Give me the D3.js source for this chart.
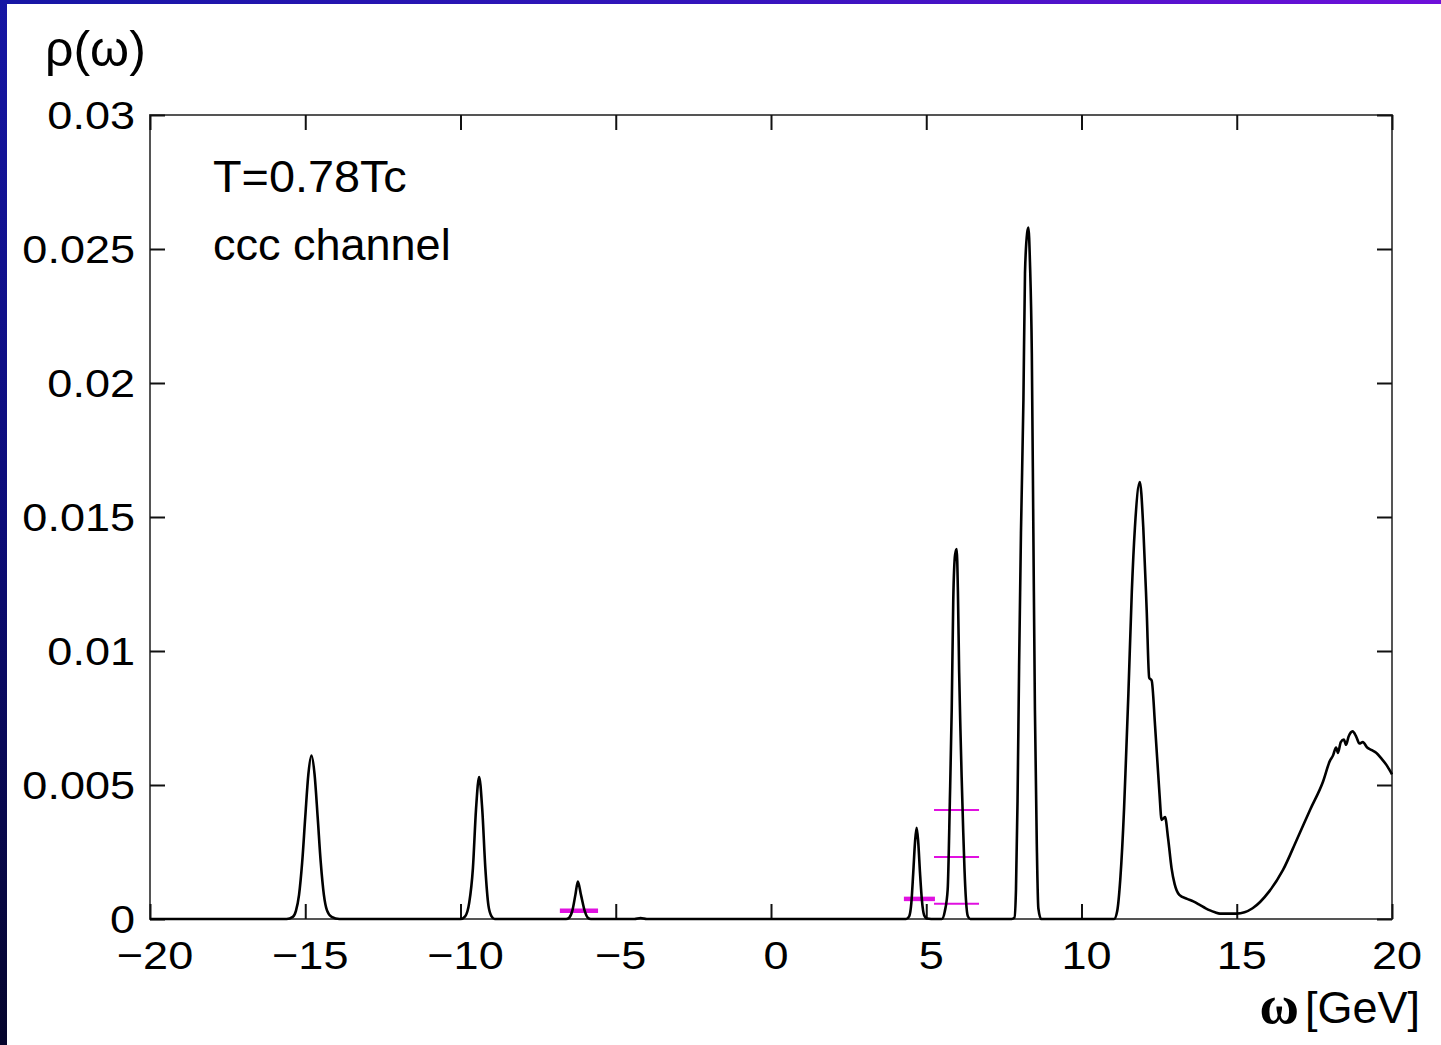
<!DOCTYPE html>
<html>
<head>
<meta charset="utf-8">
<script src="https://cdn.jsdelivr.net/npm/d3@7"></script>
<style>
  html, body { margin: 0; padding: 0; background: #fff; }
  svg { display: block; }
  text { font-family: "Liberation Sans", Arial, Helvetica, sans-serif; fill: #000; }
</style>
</head>
<body>
<svg id="chart" width="1441" height="1045"></svg>
<script>
// Spectral function rho(omega), ccc channel at T = 0.78 Tc
const omega = [
  -20, -16.0,
  -15.6, -15.4, -15.3, -15.2, -15.1, -15.0, -14.9, -14.8, -14.7, -14.6, -14.5, -14.4, -14.3, -14.15, -13.9,
  -10.0, -9.85, -9.72, -9.6, -9.5, -9.4, -9.3, -9.2, -9.1, -9.0, -8.9,
  -6.6, -6.5, -6.4, -6.3, -6.22, -6.12, -6.0, -5.9, -5.8,
  -4.4, -4.2, -4.0,
  4.35, 4.45, 4.52, 4.58, 4.64, 4.69, 4.74, 4.8, 4.86, 4.93, 5.02,
  5.3, 5.5, 5.6, 5.69, 5.76, 5.82, 5.87, 5.93, 5.98, 6.02, 6.06, 6.10, 6.14, 6.19, 6.23, 6.28, 6.34, 6.42,
  7.75, 7.84, 7.89, 7.94, 7.99, 8.05, 8.13, 8.18, 8.25, 8.29, 8.34, 8.40, 8.45, 8.50, 8.56, 8.61, 8.7,
  10.9, 11.05, 11.15, 11.25, 11.37, 11.43, 11.51, 11.62, 11.72, 11.88, 11.99, 12.10, 12.18, 12.26, 12.37,
  12.51, 12.58, 12.69, 12.79, 12.9, 13.0, 13.15, 13.4, 13.6, 13.82, 14.0, 14.14, 14.3, 14.46, 14.99, 15.51,
  16.04, 16.49, 16.93, 17.36, 17.78, 18.0, 18.1, 18.2, 18.26, 18.35, 18.45, 18.52, 18.6, 18.73, 18.85,
  18.95, 19.06, 19.2, 19.35, 19.49, 19.65, 19.82, 19.9, 20.0
];
const rho = [
  0, 0,
  0, 0.00008, 0.0003, 0.0009, 0.0021, 0.0038, 0.0054, 0.0061, 0.0054, 0.0038, 0.0021, 0.0009, 0.00032, 0.00008, 0,
  0, 0.0001, 0.0006, 0.0019, 0.0041, 0.0053, 0.0041, 0.0019, 0.0005, 0.0001, 0,
  0, 0.00005, 0.0003, 0.0009, 0.0014, 0.0009, 0.0003, 0.00005, 0,
  0, 0.00004, 0,
  0, 0.0001, 0.0006, 0.0017, 0.0029, 0.0034, 0.0029, 0.0017, 0.0007, 0.00015, 0.00002,
  0, 0, 0.0003, 0.0011, 0.0044, 0.0078, 0.0119, 0.0136, 0.0138, 0.0122, 0.0092, 0.0071, 0.0053, 0.0033, 0.0019, 0.0007, 0.0001, 0,
  0, 0.00005, 0.0011, 0.0044, 0.0094, 0.0144, 0.0194, 0.0241, 0.0256, 0.0258, 0.0245, 0.0211, 0.0144, 0.0078, 0.0028, 0.0004, 0,
  0, 0, 0.0003, 0.0015, 0.0041, 0.0059, 0.0084, 0.0122, 0.0146, 0.0163, 0.0146, 0.0115, 0.0090, 0.0089, 0.0072,
  0.0047, 0.0037, 0.0038, 0.0030, 0.0019, 0.0013, 0.0009, 0.00075, 0.00066, 0.00052, 0.0004, 0.00032, 0.00025, 0.0002, 0.0002, 0.0004,
  0.00102, 0.00183, 0.00295, 0.00407, 0.00513, 0.0059, 0.0061, 0.0064, 0.0062, 0.0066, 0.0067, 0.0065, 0.0068, 0.0070, 0.0068,
  0.00655, 0.0066, 0.0064, 0.0063, 0.0062, 0.0060, 0.00575, 0.0056, 0.0054
];

// Reference levels drawn as horizontal bars: [omega from, omega to, rho]
const levelsBold = [
  [-6.8, -5.57, 0.00031],
  [4.28, 5.28, 0.00075]
];
const levelsThin = [
  [5.25, 6.7, 0.00407],
  [5.25, 6.7, 0.00231],
  [5.25, 6.7, 0.00057]
];

const xTickValues = [-20, -15, -10, -5, 0, 5, 10, 15, 20];
const xTickLabels = ["\u221220", "\u221215", "\u221210", "\u22125", "0", "5", "10", "15", "20"];
const yTickValues = [0, 0.005, 0.01, 0.015, 0.02, 0.025, 0.03];
const yTickLabels = ["0", "0.005", "0.01", "0.015", "0.02", "0.025", "0.03"];

const W = 1441, H = 1045;
const plot = { left: 150, right: 1392, top: 115, bottom: 919 };

const svg = d3.select("#chart");
const defs = svg.append("defs");

// slide frame gradients
const gTop = defs.append("linearGradient").attr("id", "bandTop").attr("x1", 0).attr("x2", 1).attr("y1", 0).attr("y2", 0);
gTop.append("stop").attr("offset", 0).attr("stop-color", "#1616a4");
gTop.append("stop").attr("offset", 0.5).attr("stop-color", "#3414bc");
gTop.append("stop").attr("offset", 1).attr("stop-color", "#6e10da");
const gLeft = defs.append("linearGradient").attr("id", "bandLeft").attr("x1", 0).attr("x2", 0).attr("y1", 0).attr("y2", 1);
gLeft.append("stop").attr("offset", 0).attr("stop-color", "#1616a4");
gLeft.append("stop").attr("offset", 0.5).attr("stop-color", "#0c0c78");
gLeft.append("stop").attr("offset", 1).attr("stop-color", "#05052c");

svg.append("rect").attr("width", W).attr("height", H).attr("fill", "#fff");
svg.append("rect").attr("x", 0).attr("y", 0).attr("width", W).attr("height", 4).attr("fill", "url(#bandTop)");
svg.append("rect").attr("x", 0).attr("y", 0).attr("width", 7).attr("height", H).attr("fill", "url(#bandLeft)");

const x = d3.scaleLinear().domain([-20, 20]).range([plot.left, plot.right]);
const y = d3.scaleLinear().domain([0, 0.03]).range([plot.bottom, plot.top]);

// plot border
svg.append("rect")
  .attr("x", plot.left).attr("y", plot.top)
  .attr("width", plot.right - plot.left).attr("height", plot.bottom - plot.top)
  .attr("fill", "none").attr("stroke", "#555").attr("stroke-width", 2);

// inward ticks on all four sides
const tickLen = 15;
function tickAxis(axis, tx, ty) {
  const g = svg.append("g").attr("transform", `translate(${tx},${ty})`).call(axis);
  g.select(".domain").remove();
  g.selectAll("text").remove();
  g.selectAll("line").attr("stroke", "#111").attr("stroke-width", 2);
  return g;
}
tickAxis(d3.axisBottom(x).tickValues(xTickValues).tickSizeInner(-tickLen).tickSizeOuter(0), 0, plot.bottom);
tickAxis(d3.axisTop(x).tickValues(xTickValues).tickSizeInner(-tickLen).tickSizeOuter(0), 0, plot.top);
tickAxis(d3.axisLeft(y).tickValues(yTickValues).tickSizeInner(-tickLen).tickSizeOuter(0), plot.left, 0);
tickAxis(d3.axisRight(y).tickValues(yTickValues).tickSizeInner(-tickLen).tickSizeOuter(0), plot.right, 0);

// tick labels (slightly wide lettering)
const labelSize = 39.5, stretch = 1.14;
svg.append("g").selectAll("text").data(xTickValues).join("text")
  .attr("transform", d => `translate(${x(d) + 5},${plot.bottom + 50}) scale(${stretch},1)`)
  .attr("text-anchor", "middle")
  .style("font-size", labelSize + "px")
  .text((d, i) => xTickLabels[i]);
svg.append("g").selectAll("text").data(yTickValues).join("text")
  .attr("transform", d => `translate(135,${y(d) + 14}) scale(${stretch},1)`)
  .attr("text-anchor", "end")
  .style("font-size", labelSize + "px")
  .text((d, i) => yTickLabels[i]);

// axis titles
svg.append("text").attr("x", 45).attr("y", 66).style("font-size", "50px").text("\u03c1(\u03c9)");
const xt = svg.append("text").attr("x", 1420).attr("y", 1023).attr("text-anchor", "end").style("font-size", "45px");
xt.append("tspan").style("font-family", "'Liberation Serif', 'DejaVu Serif', serif")
  .style("font-size", "54px").style("font-weight", "bold").text("\u03c9");
xt.append("tspan").attr("dx", 6).text("[GeV]");

// annotations
svg.append("text").attr("transform", "translate(213,192) scale(1.04,1)").style("font-size", "45px").text("T=0.78Tc");
svg.append("text").attr("x", 213).attr("y", 260).style("font-size", "45px").text("ccc channel");

// reference level bars
const bars = svg.append("g").attr("stroke", "#e010e0").attr("fill", "none");
bars.selectAll("line.bold").data(levelsBold).join("line").attr("class", "bold")
  .attr("x1", d => x(d[0])).attr("x2", d => x(d[1]))
  .attr("y1", d => y(d[2])).attr("y2", d => y(d[2]))
  .attr("stroke-width", 4.5);
bars.selectAll("line.thin").data(levelsThin).join("line").attr("class", "thin")
  .attr("x1", d => x(d[0])).attr("x2", d => x(d[1]))
  .attr("y1", d => y(d[2])).attr("y2", d => y(d[2]))
  .attr("stroke-width", 2);

// spectral function curve
const pts = omega.map((w, i) => [w, rho[i]]);
const line = d3.line().x(d => x(d[0])).y(d => y(d[1])).curve(d3.curveMonotoneX);
svg.append("path").datum(pts)
  .attr("d", line)
  .attr("fill", "none").attr("stroke", "#000").attr("stroke-width", 2.6)
  .attr("stroke-linejoin", "round");
</script>
</body>
</html>
